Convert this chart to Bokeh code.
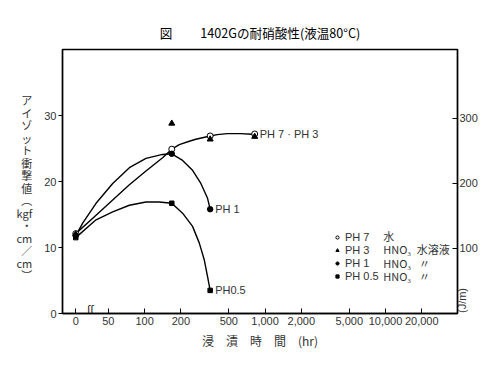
import numpy as np
from bokeh.plotting import figure
from bokeh.models import Range1d, LinearAxis, FixedTicker, Label, Legend, LegendItem
from bokeh.embed import file_html
from bokeh.resources import INLINE
from bokeh.core.properties import value

# ---------------- data (hours, kgf·cm/cm) ----------------
ph7_hours = [0, 168, 350, 820]
ph7_vals = [12.1, 24.9, 26.9, 27.2]
ph3_hours = [0, 168, 350, 820]
ph3_vals = [12.0, 28.8, 26.4, 26.8]
ph1_hours = [0, 168, 350]
ph1_vals = [11.8, 24.2, 15.8]
ph05_hours = [0, 168, 350]
ph05_vals = [11.5, 16.7, 3.5]

# hand-drawn curves
curve_ph7_hours = [0, 39.5, 54.3, 74.7, 102.6, 141, 168, 194, 235, 266, 350, 401, 485, 625, 782, 820]
curve_ph7_vals = [12.1, 14.9, 17.2, 19.5, 21.6, 23.6, 24.9, 25.6, 26.1, 26.4, 26.9, 27.1, 27.25, 27.25, 27.15, 27.2]
curve_ph1_hours = [0, 30.6, 39.5, 54.3, 74.7, 102.6, 141, 168, 206.6, 250, 293, 333, 350]
curve_ph1_vals = [11.8, 13.7, 16.7, 19.7, 22.1, 23.5, 24.1, 24.2, 23.2, 21.7, 19.7, 17.45, 15.8]
curve_ph05_hours = [0, 39.5, 54.3, 74.7, 102.6, 132, 168, 206.6, 250, 284, 313, 333, 350]
curve_ph05_vals = [11.5, 14.2, 15.4, 16.4, 16.9, 16.9, 16.7, 15.2, 13.2, 10.7, 8.1, 5.6, 3.5]

x_tick_hours = [0, 50, 100, 200, 500, 1000, 2000, 5000, 10000, 20000]
x_tick_labels = ["0", "50", "100", "200", "500", "1,000", "2,000", "5,000", "10,000", "20,000"]
y_ticks = [0, 10, 20, 30]
jm_ticks = [100, 200, 300]

end_label_hours = [820, 350, 350]
end_label_vals = [27.2, 15.8, 3.5]
end_label_texts = ["PH 7 · PH 3", "PH 1", "PH0.5"]

legend_names = ["PH 7", "PH 3", "PH 1", "PH 0.5"]
legend_media = ["水", "HNO₃\u2002水溶液", "HNO₃\u2002 〃", "HNO₃\u2002 〃"]

ZERO_AS = 26.8  # hour 0 is drawn on the broken log axis at this equivalent position


def tx(hours):
    return [float(np.log10(h if h > 0 else ZERO_AS)) for h in hours]


TXT = "#333333"
NUM_FONT = "'Liberation Sans Narrow', 'Liberation Sans', sans-serif"
JP_FONT = "'Noto Sans CJK JP'"

p = figure(width=500, height=366, output_backend="svg", toolbar_location=None,
           x_range=Range1d(float(np.log10(20.8)), float(np.log10(39600))),
           y_range=Range1d(0, 40),
           min_border_left=62, min_border_right=43, min_border_top=49, min_border_bottom=53)
p.grid.visible = False
p.outline_line_color = "black"
p.outline_line_width = 1.3
p.background_fill_color = "white"
p.border_fill_color = "white"

# title
p.title.text = "図\u3000\u3000 1402Gの耐硝酸性(液温80°C)"
p.title.align = "center"
p.title.offset = 7
p.title.text_font = JP_FONT
p.title.text_font_size = "12.6px"
p.title.text_font_style = "normal"
p.title.text_color = "black"
p.title.standoff = 16

# x axis
xa = p.xaxis[0]
xt = tx(x_tick_hours)
xa.ticker = FixedTicker(ticks=xt)
xa.major_label_overrides = {t: l for t, l in zip(xt, x_tick_labels)}
xa.minor_tick_line_color = None
xa.major_tick_in = 5
xa.major_tick_out = 0
xa.axis_line_width = 1.5
xa.major_label_text_font = NUM_FONT
xa.major_label_text_font_size = "11px"
xa.major_label_text_color = TXT
xa.major_label_standoff = 3
xa.axis_label = "浸　漬　時　間　(hr)"
xa.axis_label_text_font = JP_FONT
xa.axis_label_text_font_style = "normal"
xa.axis_label_text_font_size = "12px"
xa.axis_label_text_color = TXT
xa.axis_label_standoff = 4

# left y axis (upright vertical Japanese label)
ya = p.yaxis[0]
ya.ticker = FixedTicker(ticks=y_ticks)
ya.minor_tick_line_color = None
ya.major_tick_in = 0
ya.major_tick_out = 4
ya.axis_line_width = 1.5
ya.major_label_text_font = NUM_FONT
ya.major_label_text_font_size = "11px"
ya.major_label_text_color = TXT
ya.major_label_standoff = 2
ya.axis_label = "\nア\nイ\nゾ\nッ\nト\n衝\n撃\n値\n︵\nkgf\n・\ncm\n／\ncm\n︶"
ya.axis_label_orientation = "horizontal"
ya.axis_label_text_align = "center"
ya.axis_label_text_font = JP_FONT
ya.axis_label_text_font_style = "normal"
ya.axis_label_text_font_size = "11px"
ya.axis_label_text_line_height = 0.78
ya.axis_label_text_color = TXT
ya.axis_label_standoff = 9

# right axis (J/m)
p.extra_y_ranges = {"jm": Range1d(0, 406)}
ra = LinearAxis(y_range_name="jm", ticker=FixedTicker(ticks=jm_ticks))
ra.minor_tick_line_color = None
ra.major_tick_in = 5
ra.major_tick_out = 0
ra.axis_line_width = 1.5
ra.major_label_text_font = NUM_FONT
ra.major_label_text_font_size = "11px"
ra.major_label_text_color = TXT
ra.major_label_standoff = 2
p.add_layout(ra, "right")
p.add_layout(Label(x=-19, y=13, x_units="screen", y_units="screen", text="(J/m)",
                   angle=np.pi / 2, text_align="center", text_baseline="middle",
                   text_font="Liberation Sans", text_font_size="11px", text_color=TXT),
             "right")

# curves
for h, v in [(curve_ph7_hours, curve_ph7_vals), (curve_ph1_hours, curve_ph1_vals),
             (curve_ph05_hours, curve_ph05_vals)]:
    p.line(tx(h), v, line_color="black", line_width=1.4, line_join="round")

# markers
r7 = p.scatter(tx(ph7_hours), ph7_vals, marker="circle", size=6, fill_color="white",
               line_color="black", line_width=1)
r3 = p.scatter(tx(ph3_hours), ph3_vals, marker="triangle", size=6, fill_color="black",
               line_color="black")
r1 = p.scatter(tx(ph1_hours), ph1_vals, marker="circle", size=5.5, fill_color="black",
               line_color="black")
r05 = p.scatter(tx(ph05_hours), ph05_vals, marker="square", size=4.5, fill_color="black",
                line_color="black")

# end labels
p.text(tx(end_label_hours), end_label_vals, text=end_label_texts, x_offset=5,
       text_baseline="middle", text_font=value("Liberation Sans"), text_font_size="11px",
       text_color=TXT)

# legend
legend = Legend(items=[LegendItem(label=n, renderers=[r]) for n, r in
                       zip(legend_names, [r7, r3, r1, r05])],
                location=(271, 31), border_line_color=None, background_fill_alpha=0,
                padding=0, margin=0, spacing=1, glyph_width=8, glyph_height=10,
                label_height=10, label_standoff=4, label_text_font="Liberation Sans",
                label_text_font_size="11px", label_text_color=TXT)
p.add_layout(legend)
for i, m in enumerate(legend_media):
    p.add_layout(Label(x=320.7, y=77.7 - 13.5 * i, x_units="screen", y_units="screen",
                       text=m, text_baseline="middle", text_font=JP_FONT,
                       text_font_size="11px", text_color=TXT))

# axis break mark
p.add_layout(Label(x=28, y=4, x_units="screen", y_units="screen", text="ʃʃ",
                   text_align="center", text_baseline="middle", text_font="DejaVu Sans",
                   text_font_size="10px", text_color="black"))

open("out.html", "w").write(file_html(p, INLINE))
